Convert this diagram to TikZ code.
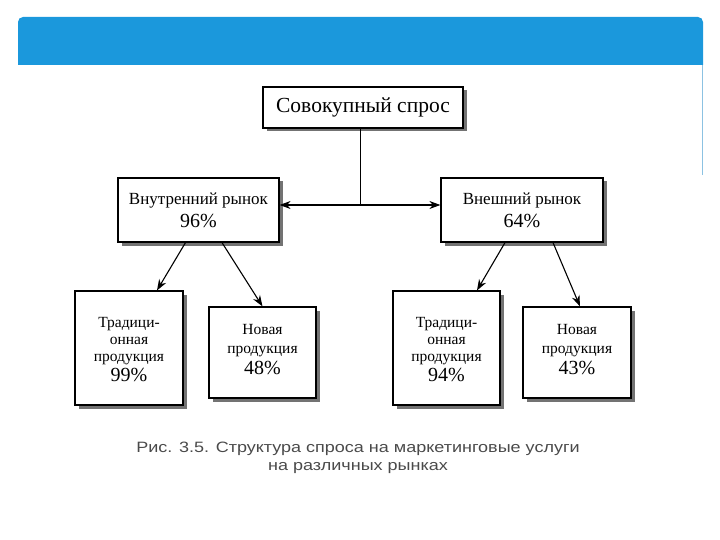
\documentclass[tikz,border=0pt]{standalone}
\usepackage{fontspec}
\setmainfont{Liberation Serif}
\newfontfamily\capfont[FakeStretch=1.2]{Liberation Sans}
\usetikzlibrary{arrows.meta,shadows}
\definecolor{bandblue}{HTML}{1B98DC}
\definecolor{edgeblue}{HTML}{8CC2E2}
\definecolor{capgray}{HTML}{4A4A4A}

\begin{document}
\begin{tikzpicture}[x=1pt, y=-1pt,
	box/.style={draw, rectangle, line width=1.2pt, align=center, inner sep=0pt, fill=white,
		drop shadow={shadow xshift=3.5pt, shadow yshift=-3.5pt, fill=black!55, opacity=1}},
	arrow/.style={-{Stealth[length=11pt,width=8pt]}, line width=1.1pt},
	caption/.style={align=center, text=capgray, font=\capfont\fontsize{15}{17.5}\selectfont}
	]
	\useasboundingbox (0,0) rectangle (720,540);
	
	% Header band
	\fill[bandblue] (18,65) [rounded corners=5pt] -- (18,17) -- (703,17) [sharp corners] -- (703,65) -- cycle;
	\draw[edgeblue, line width=0.8pt] (702.5,65) -- (702.5,175);
	
	% Top node
	\node[box, minimum width=200pt, minimum height=41pt, font=\fontsize{21.5}{24}\selectfont] (total) at (363,107.5) {Совокупный спрос};
	
	% Market nodes
	\node[box, minimum width=161pt, minimum height=64pt, font=\fontsize{17}{23}\selectfont] (inner) at (198.5,210) {Внутренний рынок\\{\fontsize{20}{23}\selectfont 96\%}};
	\node[box, minimum width=162pt, minimum height=64pt, font=\fontsize{17}{23}\selectfont] (outer) at (522,210) {Внешний рынок\\{\fontsize{20}{23}\selectfont 64\%}};
	
	% Product nodes
	\node[box, minimum width=108pt, minimum height=114pt, font=\fontsize{15.5}{17}\selectfont] (tradin) at (129,348) {\mbox{}\\[-3pt]Традици-\\онная\\продукция\\[3pt]{\fontsize{20}{20}\selectfont 99\%}};
	\node[box, minimum width=107pt, minimum height=91pt, font=\fontsize{15.5}{19}\selectfont] (newin) at (262.5,352.5) {Новая\\продукция\\[2pt]{\fontsize{20}{21}\selectfont 48\%}\\[-13pt]};
	\node[box, minimum width=107pt, minimum height=114pt, font=\fontsize{15.5}{17}\selectfont] (tradout) at (446.5,348) {\mbox{}\\[-3pt]Традици-\\онная\\продукция\\[3pt]{\fontsize{20}{20}\selectfont 94\%}};
	\node[box, minimum width=108pt, minimum height=91pt, font=\fontsize{15.5}{19}\selectfont] (newout) at (577,352.5) {Новая\\продукция\\[2pt]{\fontsize{20}{21}\selectfont 43\%}\\[-13pt]};
	
	% Caption
	\node[caption] (caption) at (358,458) {Рис. 3.5. Структура спроса на маркетинговые услуги\\на различных рынках};
	
	% Arrows
	\coordinate (fork) at (360,205);
	\draw[line width=1pt] (total.south -| fork) -- (fork);
	\draw[arrow, {Stealth[length=11pt,width=8pt]}-{Stealth[length=11pt,width=8pt]}] (inner.east |- fork) -- (outer.west |- fork);
	\draw[arrow] ([xshift=-13pt]inner.south) -- ([xshift=28pt]tradin.north);
	\draw[arrow] ([xshift=23.5pt]inner.south) -- (newin.north);
	\draw[arrow] ([xshift=-17pt]outer.south) -- ([xshift=30.5pt]tradout.north);
	\draw[arrow] ([xshift=31pt]outer.south) -- ([xshift=3pt]newout.north);
	
\end{tikzpicture}
\end{document}
